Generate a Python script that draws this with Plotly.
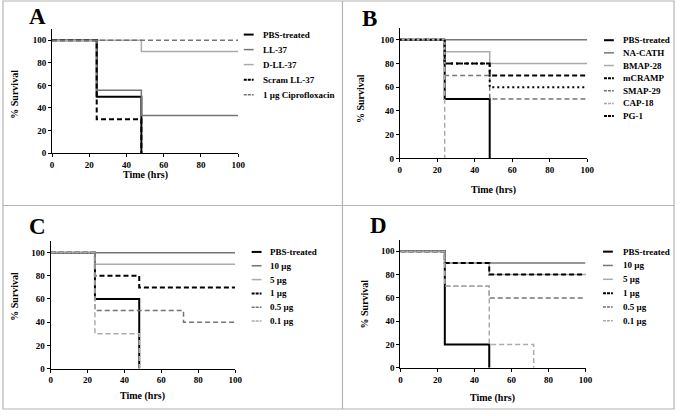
import plotly.graph_objects as go

# ---------------- data ----------------
A_names = ["PBS-treated", "LL-37", "D-LL-37", "Scram LL-37", "1 µg Ciprofloxacin"]
A_times = [[0, 24, 48], [0, 24, 48, 100], [0, 48, 100], [0, 24, 48], [0, 100]]
A_surv = [[100, 50, 0], [100, 55.6, 33.3, 33.3], [100, 90, 90], [100, 30, 0], [100, 100]]

B_names = ["PBS-treated", "NA-CATH", "BMAP-28", "mCRAMP", "SMAP-29", "CAP-18", "PG-1"]
B_times = [[0, 24, 48], [0, 100], [0, 24, 48, 100], [0, 24, 48, 100],
           [0, 24, 48, 100], [0, 24], [0, 24, 48, 100]]
B_surv = [[100, 50, 0], [100, 100], [100, 90, 80, 80], [100, 80, 70, 70],
          [100, 70, 50, 50], [100, 0], [100, 80, 60, 60]]

C_names = ["PBS-treated", "10 µg", "5 µg", "1 µg", "0.5 µg", "0.1 µg"]
C_times = [[0, 24, 48], [0, 100], [0, 24, 100], [0, 24, 48, 100], [0, 24, 72, 100], [0, 24, 48]]
C_surv = [[100, 60, 0], [100, 100], [100, 90, 90], [100, 80, 70, 70], [100, 50, 40, 40], [100, 30, 0]]

D_names = ["PBS-treated", "10 µg", "5 µg", "1 µg", "0.5 µg", "0.1 µg"]
D_times = [[0, 24, 48], [0, 24, 100], [0, 24, 48, 100], [0, 24, 48, 100], [0, 24, 48, 100], [0, 24, 48, 72]]
D_surv = [[100, 20, 0], [100, 90, 90], [100, 90, 80, 80], [100, 90, 80, 80], [100, 70, 60, 60], [100, 70, 20, 0]]

y_ticks = [0, 20, 40, 60, 80, 100]
x_ticks = [0, 20, 40, 60, 80, 100]

# ---------------- styles ----------------
BLACK, GRAY, LIGHT = "#000000", "#757575", "#ababab"
DASH = "5px,3px"
A_style = [(BLACK, "solid", 2), (GRAY, "solid", 1.5), (LIGHT, "solid", 1.5), (BLACK, DASH, 2), (GRAY, DASH, 1.5)]
B_style = [(BLACK, "solid", 2), (GRAY, "solid", 1.5), (LIGHT, "solid", 1.5), (BLACK, DASH, 2),
           (GRAY, DASH, 1.5), (LIGHT, DASH, 1.5), (BLACK, "2px,3px", 2)]
CD_style = [(BLACK, "solid", 2), (GRAY, "solid", 1.5), (LIGHT, "solid", 1.5), (BLACK, DASH, 2),
            (GRAY, DASH, 1.5), (LIGHT, DASH, 1.5)]

W, H = 684, 416
def px(x): return x / W
def py(y): return 1 - y / H

FONT = "Liberation Serif"

panels = [
    ("A", A_names, A_times, A_surv, A_style, 50.7, 239.3, 155, 29.3, (36, 17), 13, 95, 177, (245, 262, 35, 15.2)),
    ("B", B_names, B_times, B_surv, B_style, 403, 593, 160.3, 28.3, (372, 19), 364, 100, 192, (610, 627, 40.7, 12.8)),
    ("C", C_names, C_times, C_surv, CD_style, 49.3, 236.3, 373, 244, (36, 229), 12.5, 300, 401, (253, 270, 255, 14)),
    ("D", D_names, D_times, D_surv, CD_style, 403.7, 591.3, 372.3, 242.5, (382, 228), 367, 308, 403, (609, 627, 254.7, 14)),
]

fig = go.Figure()
layout = dict(
    width=W, height=H, margin=dict(l=0, r=0, t=0, b=0),
    paper_bgcolor="white", plot_bgcolor="white", showlegend=False,
    font=dict(family=FONT, color="black"),
)
annotations = []
shapes = []

def ann(text, x, y, size, xanchor="center", angle=0):
    return dict(text=text, x=px(x), y=py(y), xref="paper", yref="paper", xanchor=xanchor, yanchor="middle",
                textangle=angle, showarrow=False, font=dict(family=FONT, size=size, weight="bold"))

for i, (letter, names, times, surv, style, x0, x1, y0, ytop, lpos, ytx, yty, xty, leg) in enumerate(panels):
    n = "" if i == 0 else str(i + 1)
    xa, ya = "x" + n, "y" + n
    for name, t, s, (c, d, w) in zip(names, times, surv, style):
        fig.add_trace(go.Scatter(x=t, y=s, mode="lines", name=name, line=dict(color=c, dash=d, width=w, shape="hv"),
                                 xaxis=xa, yaxis=ya, showlegend=False))
    common = dict(showline=True, linecolor="black", linewidth=1, ticks="outside", ticklen=3, tickcolor="black",
                  showgrid=False, zeroline=False, tickfont=dict(family=FONT, size=9, weight="bold", color="black"))
    layout["xaxis" + n] = dict(domain=[px(x0), px(x1)], range=[0, 100], tickvals=x_ticks, anchor=ya, **common)
    layout["yaxis" + n] = dict(domain=[py(y0), py(ytop)], range=[0, 110], tickvals=y_ticks, anchor=xa, **common)
    annotations.append(ann(letter, lpos[0], lpos[1], 23))
    annotations.append(ann("% Survival", ytx, yty, 10, angle=-90))
    annotations.append(ann("Time (hrs)", (x0 + x1) / 2, xty, 10))
    sx, tx, r0, gap = leg
    for k, (name, (c, d, w)) in enumerate(zip(names, style)):
        yy = r0 + k * gap
        shapes.append(dict(type="line", xref="paper", yref="paper", x0=px(sx), x1=px(sx + 10), y0=py(yy), y1=py(yy),
                           line=dict(color=c, width=w, dash="3px,1px" if d != "solid" else "solid")))
        annotations.append(ann(name, tx, yy, 9, xanchor="left"))

BORDER = "#b4b4b4"
shapes.append(dict(type="rect", xref="paper", yref="paper", x0=px(1), x1=px(681), y0=py(414), y1=py(1),
                   line=dict(color=BORDER, width=1.2)))
shapes.append(dict(type="line", xref="paper", yref="paper", x0=px(345), x1=px(345), y0=py(1), y1=py(414),
                   line=dict(color=BORDER, width=1.2)))
shapes.append(dict(type="line", xref="paper", yref="paper", x0=px(1), x1=px(681), y0=py(208), y1=py(208),
                   line=dict(color=BORDER, width=1.2)))

layout["annotations"] = annotations
layout["shapes"] = shapes
fig.update_layout(**layout)
fig.write_html("out.html", config={"displayModeBar": False},
               post_script="document.body.style.margin='0';document.body.style.overflow='hidden';")
